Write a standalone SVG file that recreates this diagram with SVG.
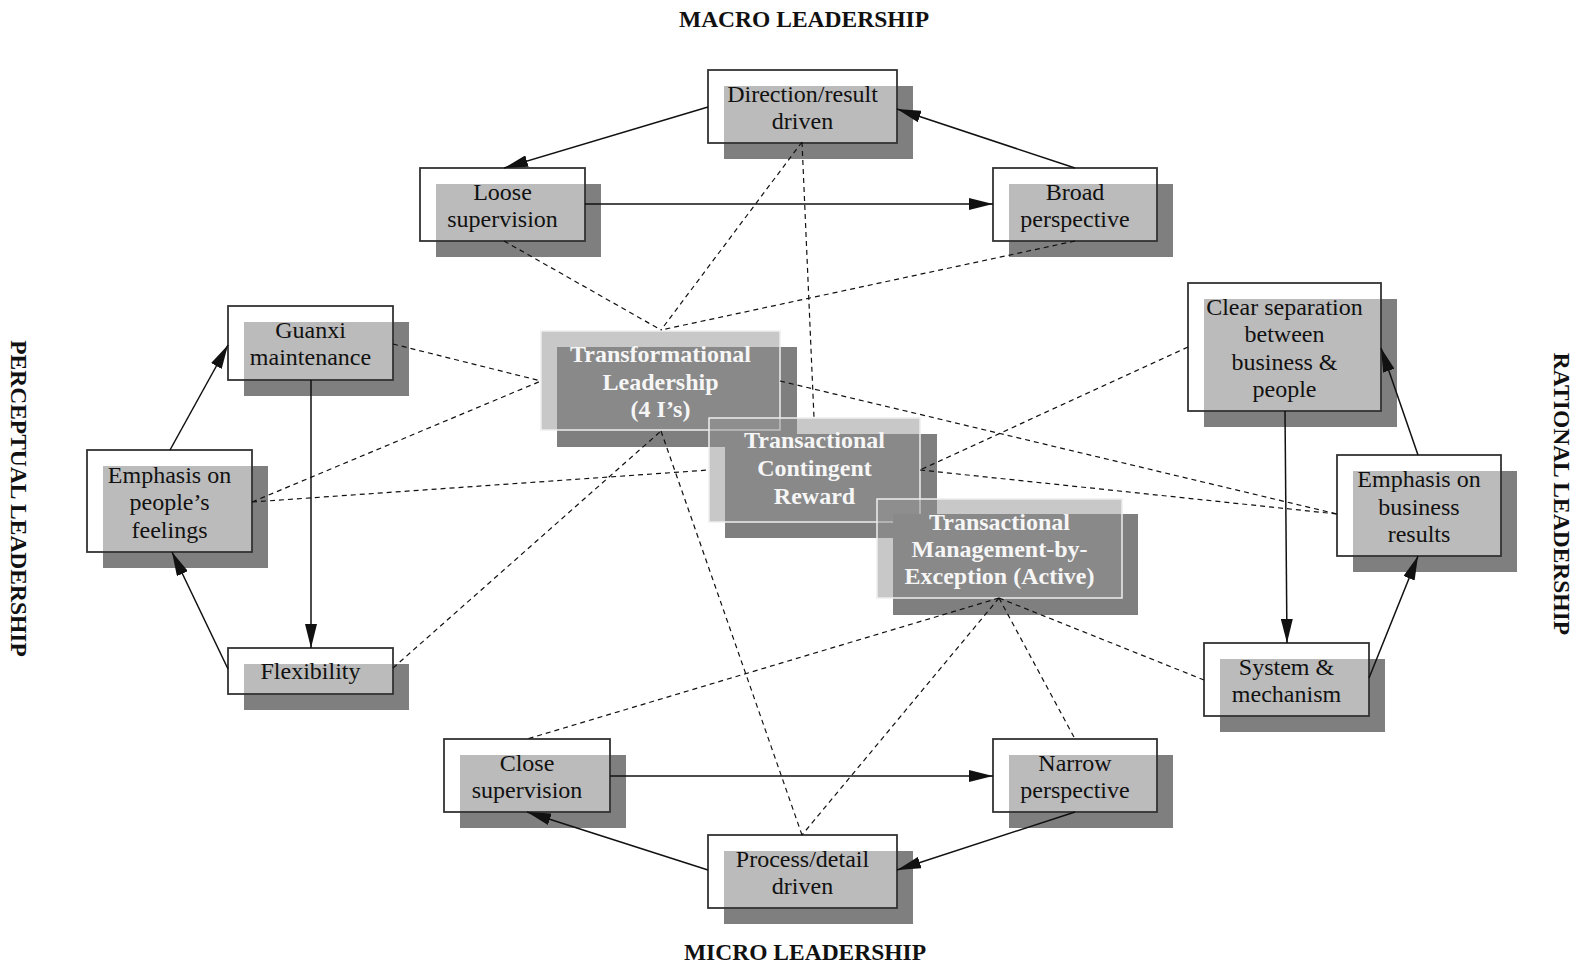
<svg xmlns="http://www.w3.org/2000/svg" width="1580" height="969" viewBox="0 0 1580 969">
  <style>
    .shadow { fill: #7f7f7f; }
    .frame { fill: #ffffff; fill-opacity: 0.47; stroke: #333333; stroke-width: 1.8; }
    .core { fill: #939393; fill-opacity: 0.51; stroke: #eeeeee; stroke-width: 1.5; }
    .lbl { font-family: "Liberation Serif", "Times New Roman", serif; font-size: 24px; fill: #111111; text-anchor: middle; }
    .corelbl { font-family: "Liberation Serif", "Times New Roman", serif; font-size: 24px; font-weight: bold; fill: #f6f6f6; text-anchor: middle; }
    .axis { font-family: "Liberation Serif", "Times New Roman", serif; font-size: 23.5px; font-weight: bold; fill: #111111; text-anchor: middle; }
    .flow { fill: none; stroke: #111111; stroke-width: 1.5; }
    .link { fill: none; stroke: #111111; stroke-width: 1.2; stroke-dasharray: 5 4; }
  </style>
  <defs>
    <marker id="head" markerUnits="userSpaceOnUse" markerWidth="24" markerHeight="12" refX="24" refY="6" orient="auto">
      <path d="M0,0 L24,6 L0,12 Z" fill="#111111"/>
    </marker>
  </defs>

  <rect width="1580" height="969" fill="#ffffff"/>

  <!-- axis titles -->
  <g id="axis-titles">
    <text class="axis" x="804" y="27">MACRO LEADERSHIP</text>
    <text class="axis" x="805" y="960">MICRO LEADERSHIP</text>
    <text class="axis" transform="translate(10.5,498.5) rotate(90)">PERCEPTUAL LEADERSHIP</text>
    <text class="axis" transform="translate(1554,494) rotate(90)">RATIONAL LEADERSHIP</text>
  </g>

  <!-- outer nodes: shadow + translucent frame + label -->
  <g id="direction-result">
    <rect class="shadow" x="724" y="86" width="189" height="73"/>
    <rect class="frame" x="708" y="70" width="189" height="73"/>
    <text class="lbl" x="802.5" y="101.75">Direction/result</text>
    <text class="lbl" x="802.5" y="129.25">driven</text>
  </g>
  <g id="loose-supervision">
    <rect class="shadow" x="436" y="184" width="165" height="73"/>
    <rect class="frame" x="420" y="168" width="165" height="73"/>
    <text class="lbl" x="502.5" y="199.75">Loose</text>
    <text class="lbl" x="502.5" y="227.25">supervision</text>
  </g>
  <g id="broad-perspective">
    <rect class="shadow" x="1009" y="184" width="164" height="73"/>
    <rect class="frame" x="993" y="168" width="164" height="73"/>
    <text class="lbl" x="1075" y="199.75">Broad</text>
    <text class="lbl" x="1075" y="227.25">perspective</text>
  </g>
  <g id="guanxi-maintenance">
    <rect class="shadow" x="244" y="322" width="165" height="74"/>
    <rect class="frame" x="228" y="306" width="165" height="74"/>
    <text class="lbl" x="310.5" y="338">Guanxi</text>
    <text class="lbl" x="310.5" y="365">maintenance</text>
  </g>
  <g id="emphasis-feelings">
    <rect class="shadow" x="103" y="466" width="165" height="102"/>
    <rect class="frame" x="87" y="450" width="165" height="102"/>
    <text class="lbl" x="169.5" y="482.5">Emphasis on</text>
    <text class="lbl" x="169.5" y="510">people’s</text>
    <text class="lbl" x="169.5" y="537.5">feelings</text>
  </g>
  <g id="flexibility">
    <rect class="shadow" x="244" y="664" width="165" height="46"/>
    <rect class="frame" x="228" y="648" width="165" height="46"/>
    <text class="lbl" x="310.5" y="679">Flexibility</text>
  </g>
  <g id="clear-separation">
    <rect class="shadow" x="1204" y="299" width="193" height="128"/>
    <rect class="frame" x="1188" y="283" width="193" height="128"/>
    <text class="lbl" x="1284.5" y="314.75">Clear separation</text>
    <text class="lbl" x="1284.5" y="342.25">between</text>
    <text class="lbl" x="1284.5" y="369.75">business &amp;</text>
    <text class="lbl" x="1284.5" y="397.25">people</text>
  </g>
  <g id="emphasis-results">
    <rect class="shadow" x="1353" y="471" width="164" height="101"/>
    <rect class="frame" x="1337" y="455" width="164" height="101"/>
    <text class="lbl" x="1419" y="487">Emphasis on</text>
    <text class="lbl" x="1419" y="514.5">business</text>
    <text class="lbl" x="1419" y="542">results</text>
  </g>
  <g id="system-mechanism">
    <rect class="shadow" x="1220" y="659" width="165" height="73"/>
    <rect class="frame" x="1204" y="643" width="165" height="73"/>
    <text class="lbl" x="1286.5" y="674.75">System &amp;</text>
    <text class="lbl" x="1286.5" y="702.25">mechanism</text>
  </g>
  <g id="close-supervision">
    <rect class="shadow" x="460" y="755" width="166" height="73"/>
    <rect class="frame" x="444" y="739" width="166" height="73"/>
    <text class="lbl" x="527" y="770.75">Close</text>
    <text class="lbl" x="527" y="798.25">supervision</text>
  </g>
  <g id="narrow-perspective">
    <rect class="shadow" x="1009" y="755" width="164" height="73"/>
    <rect class="frame" x="993" y="739" width="164" height="73"/>
    <text class="lbl" x="1075" y="770.75">Narrow</text>
    <text class="lbl" x="1075" y="798.25">perspective</text>
  </g>
  <g id="process-detail">
    <rect class="shadow" x="724" y="851" width="189" height="73"/>
    <rect class="frame" x="708" y="835" width="189" height="73"/>
    <text class="lbl" x="802.5" y="866.75">Process/detail</text>
    <text class="lbl" x="802.5" y="894.25">driven</text>
  </g>

  <!-- central leadership styles -->
  <g id="transformational">
    <rect class="shadow" x="557" y="347" width="240" height="100"/>
    <rect class="core" x="541" y="331" width="239" height="99"/>
    <text class="corelbl" x="660.5" y="362">Transformational</text>
    <text class="corelbl" x="660.5" y="389.5">Leadership</text>
    <text class="corelbl" x="660.5" y="417">(4 I’s)</text>
  </g>
  <g id="contingent-reward">
    <rect class="shadow" x="725" y="434" width="212" height="104"/>
    <rect class="core" x="709" y="418" width="211" height="104"/>
    <text class="corelbl" x="814.5" y="448">Transactional</text>
    <text class="corelbl" x="814.5" y="476">Contingent</text>
    <text class="corelbl" x="814.5" y="504">Reward</text>
  </g>
  <g id="management-by-exception">
    <rect class="shadow" x="893" y="514" width="245" height="101"/>
    <rect class="core" x="877" y="499" width="245" height="99"/>
    <text class="corelbl" x="999.5" y="530">Transactional</text>
    <text class="corelbl" x="999.5" y="557">Management-by-</text>
    <text class="corelbl" x="999.5" y="584">Exception (Active)</text>
  </g>

  <!-- connectors -->
  <g id="connectors">
    <!-- cycles -->
    <line class="flow" x1="708" y1="107" x2="504" y2="168" marker-end="url(#head)"/>
    <line class="flow" x1="585" y1="204" x2="993" y2="204" marker-end="url(#head)"/>
    <line class="flow" x1="1075" y1="168" x2="897" y2="109" marker-end="url(#head)"/>
    <line class="flow" x1="311" y1="380" x2="311" y2="648" marker-end="url(#head)"/>
    <line class="flow" x1="228" y1="669" x2="172" y2="552" marker-end="url(#head)"/>
    <line class="flow" x1="170" y1="450" x2="228" y2="345" marker-end="url(#head)"/>
    <line class="flow" x1="1285" y1="411" x2="1287" y2="643" marker-end="url(#head)"/>
    <line class="flow" x1="1369" y1="678" x2="1418" y2="556" marker-end="url(#head)"/>
    <line class="flow" x1="1418" y1="455" x2="1381" y2="348" marker-end="url(#head)"/>
    <line class="flow" x1="610" y1="776" x2="993" y2="776" marker-end="url(#head)"/>
    <line class="flow" x1="1075" y1="812" x2="897" y2="870" marker-end="url(#head)"/>
    <line class="flow" x1="708" y1="870" x2="527" y2="812" marker-end="url(#head)"/>
    <!-- associations -->
    <line class="link" x1="504" y1="241" x2="661" y2="330"/>
    <line class="link" x1="802" y1="142" x2="661" y2="330"/>
    <line class="link" x1="1075" y1="241" x2="661" y2="330"/>
    <line class="link" x1="802" y1="142" x2="814" y2="418"/>
    <line class="link" x1="393" y1="344" x2="541" y2="381"/>
    <line class="link" x1="252" y1="502" x2="541" y2="381"/>
    <line class="link" x1="252" y1="502" x2="709" y2="470"/>
    <line class="link" x1="393" y1="668" x2="661" y2="431"/>
    <line class="link" x1="780" y1="381" x2="1337" y2="514"/>
    <line class="link" x1="1188" y1="347" x2="920" y2="470"/>
    <line class="link" x1="920" y1="470" x2="1337" y2="514"/>
    <line class="link" x1="661" y1="431" x2="802" y2="835"/>
    <line class="link" x1="999" y1="598" x2="527" y2="739"/>
    <line class="link" x1="999" y1="598" x2="802" y2="835"/>
    <line class="link" x1="999" y1="598" x2="1075" y2="739"/>
    <line class="link" x1="999" y1="598" x2="1204" y2="680"/>
  </g>
</svg>
